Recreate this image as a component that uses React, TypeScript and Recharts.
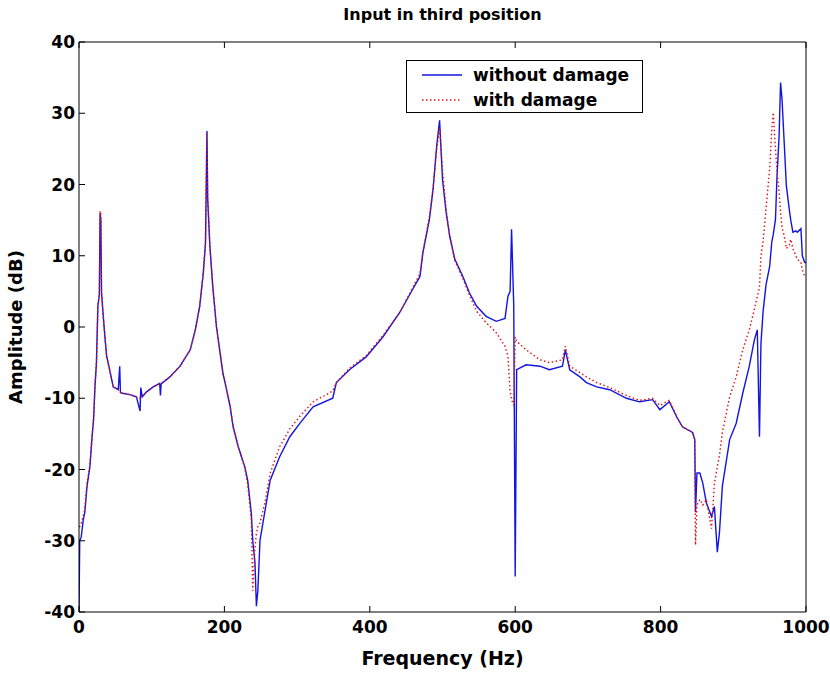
import { LineChart, Line, XAxis, YAxis, Legend } from 'recharts'

// frequency (Hz) and amplitude (dB)
const freq = [
  0, 1, 3, 6, 8, 11, 15, 18, 20, 22, 24, 26, 28, 29, 30, 31, 33, 36, 38, 43, 47, 54, 56, 57, 60, 70, 79, 84, 85, 87,
  93, 102, 111, 112, 113, 125, 139, 153, 160, 166, 171, 174, 176, 177, 180, 184, 189, 194, 198, 203, 208, 212, 219,
  228, 232, 237, 239, 242, 244, 246, 249, 256, 263, 276, 290, 304, 322, 349, 354, 372, 395, 418, 441, 459, 469, 473,
  482, 487, 492, 496, 500, 505, 510, 517, 528, 537, 547, 560, 574, 586, 590, 593, 595, 598, 600, 602, 615, 634, 647,
  665, 669, 675, 689, 698, 712, 730, 753, 771, 789, 799, 812, 822, 830, 844, 847, 848, 850, 854, 858, 863, 870, 874,
  878, 881, 885, 895, 904, 913, 922, 929, 933, 936, 938, 941, 945, 950, 953, 955, 958, 960, 963, 965, 967, 970, 973,
  977, 979, 982, 986, 988, 993, 995, 998, 1000,
]

const withoutDamage = [
  -40, -30, -29.5, -27, -26, -22.4, -19.6, -15.4, -13, -8.3, -5, 3, 4.5, 16, 15, 4.8, 2, -1.8, -4.1, -6.4, -8.4, -8.8,
  -5.5, -9.2, -9.3, -9.5, -9.8, -11.8, -8.5, -9.8, -9.1, -8.4, -7.9, -9.6, -8, -7, -5.5, -3.2, -0.4, 2.9, 7.6, 11.8,
  27.5, 18, 11.4, 5.7, 0.1, -3.6, -6.5, -8.8, -11.2, -14, -16.8, -19.6, -21.5, -26.1, -30, -33, -39.2, -37, -29.9,
  -25.7, -21.5, -18.2, -15.4, -13.5, -11.2, -10, -7.8, -6, -4.2, -1.4, 2, 5.3, 7.1, 10.4, 15.1, 19.3, 25.4, 29, 20.7,
  16.1, 12.7, 9.5, 7.1, 4.8, 2.9, 1.5, 0.8, 1.2, 4.3, 5, 13.7, 3, -35, -6, -5.3, -5.5, -6, -5.5, -3.2, -6, -7, -7.8,
  -8.4, -8.8, -10, -10.5, -10.2, -11.6, -10.5, -12.6, -14, -14.8, -15.8, -26, -20.5, -20.5, -21.9, -24.7, -26.6,
  -25.2, -31.6, -28.8, -22.3, -15.8, -13.5, -9.3, -5.5, -1.8, -0.4, -15.4, -2.4, 2.2, 5.9, 8.5, 12, 13, 15.1, 20.8,
  26.8, 34.3, 32, 25.9, 19.8, 16.5, 15, 13.3, 13.5, 13.3, 13.8, 10, 9.1, 9,
]

const withDamage = [
  -28, -28, -27.5, -26.5, -25.5, -22, -19.4, -15.2, -13, -8.3, -5, 3, 4.5, 16.3, 16, 4.8, 2, -1.8, -4.1, -6.4, -8.4,
  -8.8, -9, -9.2, -9.3, -9.5, -9.8, -10, -9.8, -9.6, -9.1, -8.4, -8, -8, -7.9, -7, -5.5, -3.2, -0.4, 2.9, 7.6, 11.8,
  27.3, 18.5, 11.4, 5.7, 0.1, -3.6, -6.5, -8.8, -11.2, -14, -16.8, -19.8, -22, -27, -37, -31, -29, -28, -27.5, -24.5,
  -20.5, -16.8, -14.3, -12.5, -10.5, -9, -7.8, -5.8, -4, -1.2, 2, 5.5, 7.5, 10.5, 15.5, 19.5, 25, 28, 22, 16.5, 12.7,
  9.3, 6.8, 4.5, 2.2, 0.6, -0.8, -2.7, -4.1, -9, -10.2, -11, -1.4, -2, -3.2, -4.6, -5, -4.6, -2.7, -5.5, -6.4, -7,
  -7.8, -8.5, -9.6, -10.3, -10, -11, -10.3, -12.5, -14, -14.8, -15.8, -30.6, -25, -24.2, -25, -24.2, -28.3, -22,
  -19.6, -18, -14.8, -9.8, -7, -3.2, -0.4, 2.5, 4.3, 5.5, 10, 12, 16.6, 22.2, 27.8, 30.1, 25, 22, 19, 16.1, 14, 12.8,
  11, 11.5, 12.3, 11, 10, 9.5, 9.1, 8, 7.2, 7,
]

const xTicks = [0, 200, 400, 600, 800, 1000]
const yTicks = [-40, -30, -20, -10, 0, 10, 20, 30, 40]

const data = freq.map((f, i) => ({ f, without: withoutDamage[i], with: withDamage[i] }))

const FONT = '"DejaVu Sans", Arial, sans-serif'
const BLUE = '#1414e0'
const RED = '#e01010'

// MATLAB style ticks: pointing into the plot box
const BottomTick = ({ x, y, payload }: any) => (
  <g>
    <line x1={x} y1={y} x2={x} y2={y - 6} stroke="#000" />
    <text x={x} y={y + 21} textAnchor="middle" fontFamily={FONT} fontWeight="bold" fontSize={17} fill="#000">
      {payload.value}
    </text>
  </g>
)

const LeftTick = ({ x, y, payload }: any) => (
  <g>
    <line x1={x} y1={y} x2={x + 6} y2={y} stroke="#000" />
    <text x={x - 4} y={y + 6} textAnchor="end" fontFamily={FONT} fontWeight="bold" fontSize={17} fill="#000">
      {payload.value}
    </text>
  </g>
)

const TopTick = ({ x, y }: any) => <line x1={x} y1={y} x2={x} y2={y + 6} stroke="#000" />
const RightTick = ({ x, y }: any) => <line x1={x} y1={y} x2={x - 6} y2={y} stroke="#000" />

const LegendBox = () => (
  <div
    style={{
      width: 235,
      height: 51,
      border: '1px solid #000',
      background: '#fff',
      fontFamily: FONT,
      fontWeight: 'bold',
      fontSize: 17,
      color: '#000',
      boxSizing: 'content-box',
      whiteSpace: 'nowrap',
    }}
  >
    <div style={{ display: 'flex', alignItems: 'center', height: 26, marginTop: 1 }}>
      <svg width={66} height={10}>
        <line x1={15} y1={5} x2={55} y2={5} stroke={BLUE} strokeWidth={1.5} />
      </svg>
      <span>without damage</span>
    </div>
    <div style={{ display: 'flex', alignItems: 'center', height: 24 }}>
      <svg width={66} height={10}>
        <line x1={15} y1={5} x2={55} y2={5} stroke={RED} strokeWidth={1.5} strokeDasharray="1.5 2.5" />
      </svg>
      <span>with damage</span>
    </div>
  </div>
)

export default function App() {
  return (
    <div style={{ position: 'absolute', left: 0, top: 0, width: 830, height: 673, background: '#fff' }}>
      <LineChart width={830} height={673} data={data} margin={{ top: 0, right: 0, bottom: 0, left: 0 }}>
        <XAxis
          dataKey="f"
          type="number"
          domain={[0, 1000]}
          ticks={xTicks}
          allowDataOverflow
          height={61}
          tickSize={0}
          tickMargin={0}
          tickLine={false}
          tick={<BottomTick />}
          axisLine={{ stroke: '#000' }}
          interval={0}
          label={{
            value: 'Frequency (Hz)',
            position: 'insideBottom',
            offset: 8,
            style: { fontFamily: FONT, fontWeight: 'bold', fontSize: 19, fill: '#000' },
          }}
        />
        <XAxis
          xAxisId="top"
          orientation="top"
          dataKey="f"
          type="number"
          domain={[0, 1000]}
          ticks={xTicks}
          allowDataOverflow
          height={42}
          tickSize={0}
          tickMargin={0}
          tickLine={false}
          tick={<TopTick />}
          axisLine={{ stroke: '#000' }}
          interval={0}
          label={{
            value: 'Input in third position',
            position: 'insideTop',
            offset: 9,
            style: { fontFamily: FONT, fontWeight: 'bold', fontSize: 16, fill: '#000' },
          }}
        />
        <YAxis
          domain={[-40, 40]}
          ticks={yTicks}
          allowDataOverflow
          width={79}
          tickSize={0}
          tickMargin={0}
          tickLine={false}
          tick={<LeftTick />}
          axisLine={{ stroke: '#000' }}
          interval={0}
          label={{
            value: 'Amplitude (dB)',
            angle: -90,
            position: 'insideLeft',
            offset: 16,
            style: { fontFamily: FONT, fontWeight: 'bold', fontSize: 18, fill: '#000', textAnchor: 'middle' },
          }}
        />
        <YAxis
          yAxisId="right"
          orientation="right"
          domain={[-40, 40]}
          ticks={yTicks}
          width={24}
          tickSize={0}
          tickMargin={0}
          tickLine={false}
          tick={<RightTick />}
          axisLine={{ stroke: '#000' }}
          interval={0}
        />
        <Legend
          content={<LegendBox />}
          wrapperStyle={{ position: 'absolute', left: 406, top: 60, width: 0, height: 0, overflow: 'visible' }}
        />
        <Line
          dataKey="without"
          name="without damage"
          type="linear"
          stroke={BLUE}
          strokeWidth={1.4}
          dot={false}
          activeDot={false}
          isAnimationActive={false}
        />
        <Line
          dataKey="with"
          name="with damage"
          type="linear"
          stroke={RED}
          strokeWidth={1.4}
          strokeDasharray="1.5 2.5"
          dot={false}
          activeDot={false}
          isAnimationActive={false}
        />
      </LineChart>
    </div>
  )
}
